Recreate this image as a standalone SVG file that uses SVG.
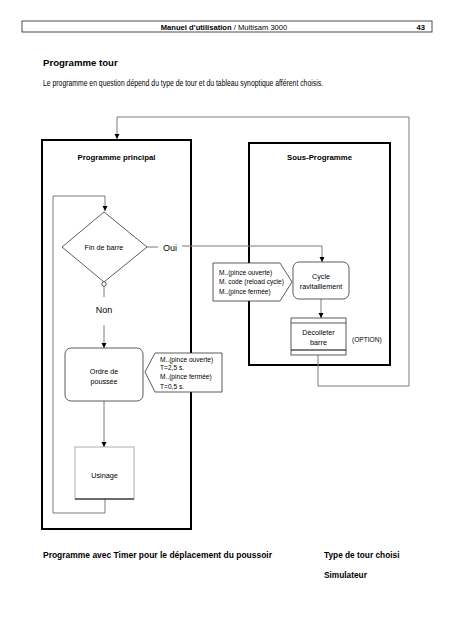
<svg xmlns="http://www.w3.org/2000/svg" width="453" height="640" viewBox="0 0 453 640">
<defs>
<style>
text{font-family:"Liberation Sans",Arial,sans-serif;fill:#000}
.b{font-weight:bold}
.c{text-anchor:middle}
.conn{fill:none;stroke:#7a7a7a;stroke-width:1}
.dark{fill:none;stroke:#222;stroke-width:0.8}
.frame{fill:#fff;stroke:#000;stroke-width:2}
.node{fill:#fff;stroke:#333;stroke-width:0.8}
.small{font-size:6.6px}
.mid{font-size:7.2px}
</style>
<marker id="ah" viewBox="0 0 10 10" refX="10" refY="5" markerWidth="5" markerHeight="6" orient="auto" markerUnits="userSpaceOnUse">
<path d="M0,0 L10,5 L0,10 z" fill="#000"/>
</marker>
</defs>
<rect width="453" height="640" fill="#fff"/>

<g id="header">
<rect x="22" y="21" width="410" height="11" fill="none" stroke="#222" stroke-width="0.8"/>
<text x="224" y="29.5" class="c" font-size="7.6"><tspan class="b">Manuel d’utilisation</tspan> / Multisam 3000</text>
<text x="425" y="29.5" font-size="7.6" class="b" text-anchor="end">43</text>
</g>

<g id="intro">
<text x="43" y="66" class="b" font-size="9.6">Programme tour</text>
<text x="43" y="86" font-size="8.2" textLength="280" lengthAdjust="spacingAndGlyphs">Le programme en question dépend du type de tour et du tableau synoptique afférent choisis.</text>
</g>

<g id="frame-principal">
<rect x="42" y="140" width="149" height="389" class="frame"/>
<text x="116.5" y="160" class="b c" font-size="7.8">Programme principal</text>
</g>
<g id="frame-sous">
<rect x="249" y="143" width="141" height="222" class="frame"/>
<text x="319.5" y="160" class="b c" font-size="7.8">Sous-Programme</text>
</g>

<g id="connectors">
<path class="conn" d="M318,355 V386 H409 V117 H117 V139" marker-end="url(#ah)"/>
<path class="conn" d="M105,499 V513 H53 V196 H105 V211" marker-end="url(#ah)"/>
<path class="conn" d="M147,247 H158"/>
<path class="conn" d="M182,246 H322 V262" marker-end="url(#ah)"/>
<path class="conn" d="M104,286 V297"/>
<path class="conn" d="M104,325 V348" marker-end="url(#ah)"/>
<path class="conn" d="M104,401 V447" marker-end="url(#ah)"/>
<path class="conn" d="M321,299 V318" marker-end="url(#ah)"/>
</g>

<g id="decision">
<polygon points="104,212 147,247 104,282 62,247" class="node"/>
<circle cx="104" cy="284" r="2.2" fill="#fff" stroke="#333" stroke-width="0.8"/>
<text x="104" y="249.5" class="c mid">Fin de barre</text>
</g>
<g id="label-oui"><text x="170" y="251" class="c" font-size="9">Oui</text></g>
<g id="label-non"><text x="104" y="313" class="c" font-size="9">Non</text></g>

<g id="ordre">
<rect x="65" y="348" width="78" height="53" rx="6" class="node"/>
<text x="104" y="374" class="c mid">Ordre de</text>
<text x="104" y="384" class="c mid">poussée</text>
</g>
<g id="callout-ordre">
<polygon points="155,353 222,353 222,392 155,392 145,372" class="node"/>
<text x="160" y="362" class="small">M..(pince ouverte)</text>
<text x="160" y="370" class="small">T=2,5 s.</text>
<text x="160" y="378.5" class="small">M..(pince fermée)</text>
<text x="160" y="389" class="small">T=0,5 s.</text>
</g>

<g id="usinage">
<rect x="75" y="447" width="59" height="52" fill="#fff" stroke="#999" stroke-width="0.8"/>
<line x1="75" y1="499" x2="134" y2="499" stroke="#000" stroke-width="1.2"/>
<text x="104.5" y="478" class="c mid">Usinage</text>
</g>

<g id="callout-cycle">
<polygon points="213,263 280,263 292,282 280,301 213,301" class="node"/>
<text x="219" y="275" class="small">M..(pince ouverte)</text>
<text x="219" y="284" class="small">M. code (reload cycle)</text>
<text x="219" y="294" class="small">M..(pince fermée)</text>
</g>
<g id="cycle">
<rect x="293" y="262" width="56" height="37" rx="6" class="node"/>
<text x="321" y="279" class="c mid">Cycle</text>
<text x="321" y="289" class="c mid">ravitaillement</text>
</g>

<g id="decolleter">
<rect x="291" y="318" width="55" height="37" class="node"/>
<line x1="291" y1="323" x2="346" y2="323" stroke="#333" stroke-width="0.8"/>
<line x1="291" y1="350" x2="346" y2="350" stroke="#000" stroke-width="1.2"/>
<text x="318.5" y="335" class="c mid">Décolleter</text>
<text x="318.5" y="345" class="c mid">barre</text>
</g>
<g id="label-option"><text x="352" y="342" class="small">(OPTION)</text></g>

<g id="footer">
<text x="43" y="558" class="b" font-size="8.3" textLength="229" lengthAdjust="spacingAndGlyphs">Programme avec Timer pour le déplacement du poussoir</text>
<text x="324" y="558" class="b" font-size="8.3">Type de tour choisi</text>
<text x="324" y="578" class="b" font-size="8.3">Simulateur</text>
</g>
</svg>
